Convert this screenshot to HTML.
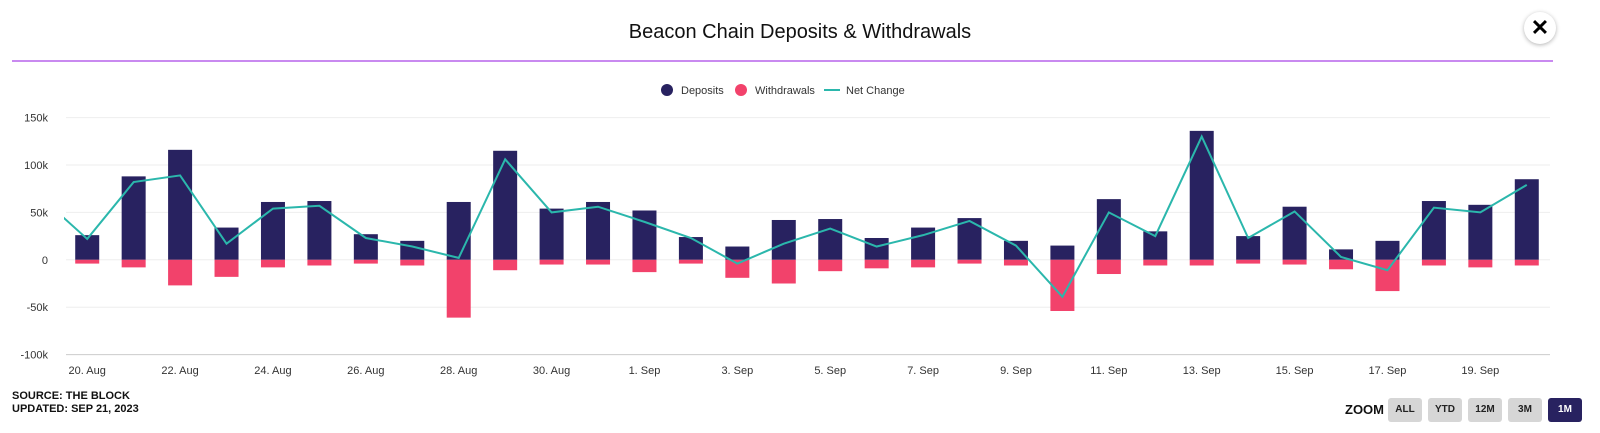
<!DOCTYPE html>
<html><head><meta charset="utf-8"><style>
body{margin:0;width:1600px;height:433px;background:#fff;font-family:"Liberation Sans",sans-serif;position:relative;overflow:hidden}
.t{position:absolute}
.btn{position:absolute;top:398px;width:34px;height:24px;background:#d6d6d6;border-radius:3px;font-size:10px;font-weight:bold;color:#222;text-align:center;line-height:24px}
</style></head><body>
<div class="t" style="left:0;width:1600px;top:21px;text-align:center;font-size:20px;color:#111">Beacon Chain Deposits &amp; Withdrawals</div>
<div style="position:absolute;left:1524px;top:12px;width:32px;height:32px;border-radius:16px;background:#fff;box-shadow:0 1px 4px rgba(0,0,0,.3);text-align:center;line-height:32px;font-size:22px;font-weight:bold">✕</div>
<div style="position:absolute;left:12px;top:60px;width:1541px;height:2px;background:#c98af0"></div>
<svg id="c" width="1600" height="433" style="position:absolute;left:0;top:0"></svg>
<div class="t" style="left:12px;top:390px;font-size:11px;font-weight:bold;line-height:13px;color:#111">SOURCE: THE BLOCK<br>UPDATED: SEP 21, 2023</div>
<div class="t" style="left:1345px;top:402px;font-size:13px;font-weight:bold;color:#111">ZOOM</div>
<div class="btn" style="left:1388px">ALL</div>
<div class="btn" style="left:1428px">YTD</div>
<div class="btn" style="left:1468px">12M</div>
<div class="btn" style="left:1508px">3M</div>
<div class="btn" style="left:1548px;background:#282260;color:#fff">1M</div>
<script>
const dates=["20. Aug","21. Aug","22. Aug","23. Aug","24. Aug","25. Aug","26. Aug","27. Aug","28. Aug","29. Aug","30. Aug","31. Aug","1. Sep","2. Sep","3. Sep","4. Sep","5. Sep","6. Sep","7. Sep","8. Sep","9. Sep","10. Sep","11. Sep","12. Sep","13. Sep","14. Sep","15. Sep","16. Sep","17. Sep","18. Sep","19. Sep","20. Sep"];
const deposits=[26,88,116,34,61,62,27,20,61,115,54,61,52,24,14,42,43,23,34,44,20,15,64,30,136,25,56,11,20,62,58,85];
const withdrawals=[-4,-8,-27,-18,-8,-6,-4,-6,-61,-11,-5,-5,-13,-4,-19,-25,-12,-9,-8,-4,-6,-54,-15,-6,-6,-4,-5,-10,-33,-6,-8,-6];
const netChange=[22,82,89,17,54,57,23,14,2,106,50,56,40,23,-4,17,33,14,26,41,15,-39,50,25,130,23,51,3,-11,55,50,79];
const netPrev=66; // 19 Aug, partially visible
const yTicks=[-100,-50,0,50,100,150];
const svg=document.getElementById('c');const NS='http://www.w3.org/2000/svg';
const X0=64,X1=1550,step=(X1-X0)/dates.length;
const x=i=>X0+(i+0.5)*step;
const y=v=>259.8-v*0.948;
function mk(t,a,p){const e=document.createElementNS(NS,t);for(const k in a)e.setAttribute(k,a[k]);(p||svg).appendChild(e);return e;}
yTicks.forEach(v=>{
 const l=mk('line',{x1:66,x2:1550,y1:y(v),y2:y(v),stroke:v==-100?'#ccc':'#eee','stroke-width':1});
 
 
 const t=mk('text',{x:48,y:y(v)+4,'text-anchor':'end','font-size':11,fill:'#333'});t.textContent=v===0?'0':v+'k';
 
 
});
const bw=24;
dates.forEach((d,i)=>{
 const b=mk('rect',{x:x(i)-bw/2,y:y(deposits[i]),width:bw,height:y(0)-y(deposits[i]),fill:'#282260'});
 
 
 const w=mk('rect',{x:x(i)-bw/2,y:y(0),width:bw,height:y(withdrawals[i])-y(0),fill:'#f2426b'});
 
 
 if(i%2===0){const t=mk('text',{x:x(i),y:374,'text-anchor':'middle','font-size':11,fill:'#333'});t.textContent=d;
 
 }
});
const defs=mk('defs',{});const cp=mk('clipPath',{id:'cl'},defs);mk('rect',{x:X0,y:0,width:X1-X0,height:433},cp);
let pts=[[x(-1),y(netPrev)]].concat(netChange.map((v,i)=>[x(i),y(v)]));
const pl=mk('polyline',{points:pts.map(p=>p.join(',')).join(' '),fill:'none',stroke:'#2bb7ac','stroke-width':2,'clip-path':'url(#cl)'});


const lg=mk('g',{});
mk('circle',{cx:667,cy:90,r:6,fill:'#282260'},lg);
let t=mk('text',{x:681,y:94,'font-size':11,fill:'#333'},lg);t.textContent='Deposits';
mk('circle',{cx:741,cy:90,r:6,fill:'#f2426b'},lg);
t=mk('text',{x:755,y:94,'font-size':11,fill:'#333'},lg);t.textContent='Withdrawals';
mk('line',{x1:824,x2:840,y1:90,y2:90,stroke:'#2bb7ac','stroke-width':2},lg);
t=mk('text',{x:846,y:94,'font-size':11,fill:'#333'},lg);t.textContent='Net Change';
</script>
</body></html>
